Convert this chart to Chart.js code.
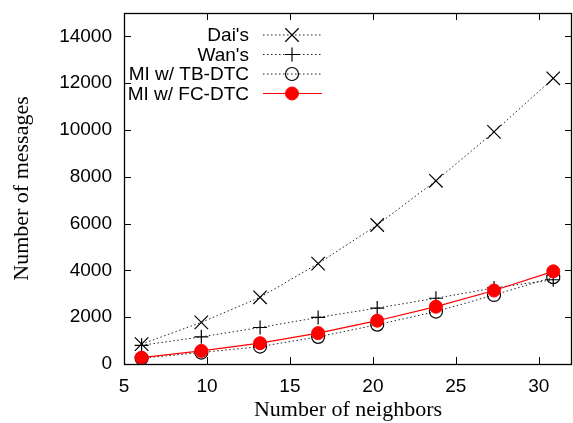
<!DOCTYPE html>
<html>
<head>
<meta charset="utf-8">
<script src="https://cdn.jsdelivr.net/npm/chart.js@4"></script>
<style>
  html, body { margin: 0; padding: 0; background: #fff; }
  #wrap { width: 573px; height: 423px; }
</style>
</head>
<body>
<div id="wrap"><canvas id="myChart"></canvas></div>
<script>
// average number of neighbors per node
const vizinhos = [6.06, 9.66, 13.2, 16.7, 20.26, 23.8, 27.3, 30.87]

// number of messages for each scheme
const dai = [850, 1780, 2850, 4290, 5940, 7830, 9920, 12210]
const wan = [800, 1160, 1560, 1990, 2390, 2810, 3250, 3600]
const tbDtc = [245, 490, 745, 1160, 1680, 2240, 2950, 3710]
const fcDtc = [272, 560, 890, 1320, 1850, 2450, 3140, 3960]

const nomes = ["Dai's", "Wan's", "MI w/ TB-DTC", "MI w/ FC-DTC"]

const ticksX = [5, 10, 15, 20, 25, 30]
const ticksY = [0, 2000, 4000, 6000, 8000, 10000, 12000, 14000]

function pontos(valores){
  return valores.map(function(v, i){ return {x: vizinhos[i], y: v} })
}

const tracejado = [1.5, 2.5]

const datasets = [
  {label: nomes[0], data: pontos(dai), borderColor: '#222', borderWidth: 1, borderDash: tracejado,
   pointStyle: 'crossRot', pointRadius: 9.5, pointBorderColor: '#000', pointBorderWidth: 1.2, order: 3},
  {label: nomes[1], data: pontos(wan), borderColor: '#222', borderWidth: 1, borderDash: tracejado,
   pointStyle: 'cross', pointRadius: 7, pointBorderColor: '#000', pointBorderWidth: 1.2, order: 2},
  {label: nomes[2], data: pontos(tbDtc), borderColor: '#222', borderWidth: 1, borderDash: tracejado,
   pointStyle: 'circle', pointRadius: 6.5, pointBorderColor: '#000', pointBackgroundColor: 'rgba(255,255,255,0)',
   pointBorderWidth: 1.2, order: 1},
  {label: nomes[3], data: pontos(fcDtc), borderColor: '#ff0000', borderWidth: 1.2,
   pointStyle: 'circle', pointRadius: 6.5, pointBorderColor: '#ff0000', pointBackgroundColor: '#ff0000',
   pointBorderWidth: 1, order: 0}
]

// gnuplot style frame: full box with inward ticks on all sides
const moldura = {
  id: 'moldura',
  afterDraw(chart){
    const c = chart.ctx
    const a = chart.chartArea
    const sx = chart.scales.x
    const sy = chart.scales.y
    const t = 7
    c.save()
    c.strokeStyle = '#000'
    c.lineWidth = 1
    c.beginPath()
    ticksX.forEach(function(v){
      const px = Math.round(sx.getPixelForValue(v)) + 0.5
      c.moveTo(px, a.bottom); c.lineTo(px, a.bottom - t)
      c.moveTo(px, a.top); c.lineTo(px, a.top + t)
    })
    ticksY.forEach(function(v){
      const py = Math.round(sy.getPixelForValue(v)) + 0.5
      c.moveTo(a.left, py); c.lineTo(a.left + t, py)
      c.moveTo(a.right, py); c.lineTo(a.right - t, py)
    })
    c.stroke()
    c.lineWidth = 1.3
    c.strokeRect(Math.round(a.left) + 0.5, Math.round(a.top) + 0.5,
      Math.round(a.right - a.left) - 1, Math.round(a.bottom - a.top))
    c.restore()
  }
}

// legend with text on the left and line sample on the right
const legenda = {
  id: 'legenda',
  afterDraw(chart){
    const c = chart.ctx
    const xTexto = 249, x0 = 263, x1 = 322, xm = 292
    const linhas = [35, 54.5, 74, 93.5]
    c.save()
    c.font = '19px "Liberation Sans", Arial, sans-serif'
    c.textAlign = 'right'
    c.textBaseline = 'middle'
    chart.data.datasets.forEach(function(ds, i){
      const y = linhas[i]
      c.fillStyle = '#000'
      c.fillText(ds.label, xTexto, y + 1)
      c.strokeStyle = ds.borderColor
      c.lineWidth = ds.borderWidth
      c.setLineDash(ds.borderDash || [])
      c.beginPath(); c.moveTo(x0, y); c.lineTo(x1, y); c.stroke()
      c.setLineDash([])
      c.strokeStyle = ds.pointBorderColor
      c.fillStyle = ds.pointBackgroundColor || 'rgba(0,0,0,0)'
      c.lineWidth = ds.pointBorderWidth
      Chart.helpers.drawPoint(c, {pointStyle: ds.pointStyle, radius: ds.pointRadius, borderWidth: ds.pointBorderWidth, rotation: 0}, xm, y)
    })
    c.restore()
  }
}

const fonteTicks = {family: '"Liberation Sans", Arial, sans-serif', size: 19}
const fonteTitulo = {family: '"Liberation Serif", "Times New Roman", serif', size: 22}

function semMargem(scale){
  scale.paddingTop = 0
  scale.paddingBottom = 0
  scale.paddingLeft = 0
  scale.paddingRight = 0
}

const ctx = document.getElementById('myChart')

const config = {
  type: 'line',
  data: {datasets: datasets},
  options: {
    responsive: true,
    maintainAspectRatio: false,
    animation: false,
    layout: {autoPadding: false, padding: {top: 13, right: 1, left: 0, bottom: 0}},
    plugins: {legend: {display: false}, tooltip: {enabled: false}},
    scales: {
      x: {
        type: 'linear', min: 5, max: 32,
        grid: {display: false, drawTicks: false},
        border: {display: false},
        afterFit(scale){ scale.height = 59; semMargem(scale) },
        afterBuildTicks(scale){ scale.ticks = ticksX.map(function(v){ return {value: v} }) },
        ticks: {color: '#000', font: fonteTicks, padding: 11, maxRotation: 0,
          callback: function(v){ return String(v) }},
        title: {display: true, text: 'Number of neighbors', color: '#000', font: fonteTitulo, padding: {top: 2, bottom: 0}}
      },
      y: {
        type: 'linear', min: 0, max: 15000,
        grid: {display: false, drawTicks: false},
        border: {display: false},
        afterFit(scale){ scale.width = 124; semMargem(scale) },
        afterBuildTicks(scale){ scale.ticks = ticksY.map(function(v){ return {value: v} }) },
        ticks: {color: '#000', font: fonteTicks, padding: 12,
          callback: function(v){ return String(v) }},
        title: {display: true, text: 'Number of messages', color: '#000', font: fonteTitulo, padding: {top: 9, bottom: 0}}
      }
    }
  },
  plugins: [moldura, legenda]
}

const myChart = new Chart(ctx, config)
</script>
</body>
</html>
